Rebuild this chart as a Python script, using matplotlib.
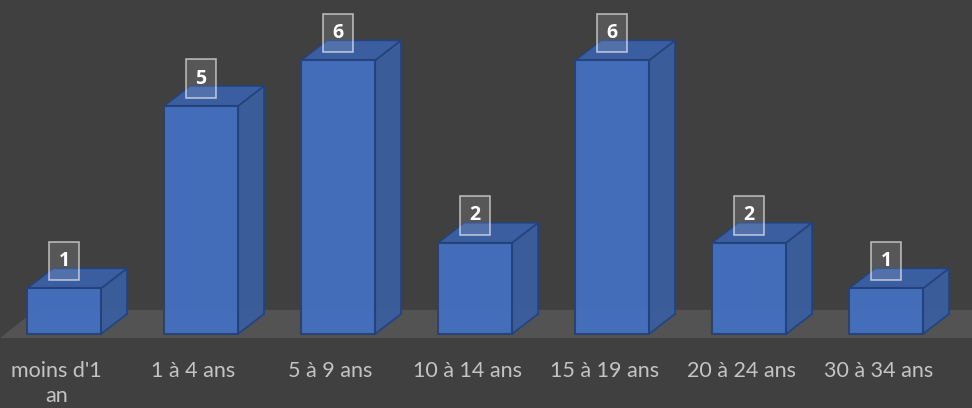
import matplotlib.pyplot as plt
from matplotlib.patches import Polygon

categories = ["moins d'1\nan", "1 à 4 ans", "5 à 9 ans", "10 à 14 ans",
              "15 à 19 ans", "20 à 24 ans", "30 à 34 ans"]
values = [1, 5, 6, 2, 6, 2, 1]

bg = '#404040'
floor_col = '#535353'
front_col = '#4570C0'
side_col = '#3A5E9F'
top_col = '#3B60A6'
edge_col = '#24427A'

# 3d look: bar width and depth offset, in data units
w = 0.54
dx, dy = 0.19, 0.44

fig = plt.figure(figsize=(9.72, 4.08), dpi=100, facecolor=bg)
ax = fig.add_axes([0, 0, 1, 1])
ax.set_facecolor(bg)
ax.set_xlim(-0.467, 6.628)
ax.set_ylim(-1.623, 7.325)
ax.axis('off')

# floor
x0, x1 = -0.467, 6.9
fy0, fy1 = -0.09, 0.53
ax.add_patch(Polygon([(x0, fy0), (x1, fy0), (x1 + 0.26, fy1), (x0 + 0.26, fy1)],
                     closed=True, facecolor=floor_col, edgecolor='none', zorder=1))

for i, v in enumerate(values):
    l, r = i - w / 2, i + w / 2
    # faint hidden back edges
    ax.plot([l + dx, l + dx, r + dx], [v + dy, dy, dy], color=edge_col, lw=0.8,
            alpha=0.5, zorder=2)
    ax.plot([l, l + dx], [0, dy], color=edge_col, lw=0.8, alpha=0.5, zorder=2)
    side = Polygon([(r, 0), (r + dx, dy), (r + dx, v + dy), (r, v)], closed=True,
                   facecolor=side_col, edgecolor=edge_col, lw=1.2, alpha=0.95, zorder=3)
    top = Polygon([(l, v), (l + dx, v + dy), (r + dx, v + dy), (r, v)], closed=True,
                  facecolor=top_col, edgecolor=edge_col, lw=1.2, alpha=0.95, zorder=3)
    front = Polygon([(l, 0), (r, 0), (r, v), (l, v)], closed=True,
                    facecolor=front_col, edgecolor=edge_col, lw=1.5, alpha=0.95, zorder=4)
    for p in (side, top, front):
        ax.add_patch(p)

    # data label
    ax.text(i, v + 0.6, str(v), ha='center', va='center', color='white',
            fontsize=14, fontweight='bold', family='Open Sans', zorder=6,
            bbox=dict(boxstyle='square,pad=0.48', facecolor=(1, 1, 1, 0.12),
                      edgecolor=(1, 1, 1, 0.6), lw=1.2))

    # category labels sit a bit left of the bar centre
    ax.text(i - 0.055, -0.6, categories[i], ha='center', va='top', color='#C4C4C4',
            fontsize=15.5, family='Lato', linespacing=1.3, zorder=6)

fig.savefig('out.png', dpi=100, facecolor=bg)
